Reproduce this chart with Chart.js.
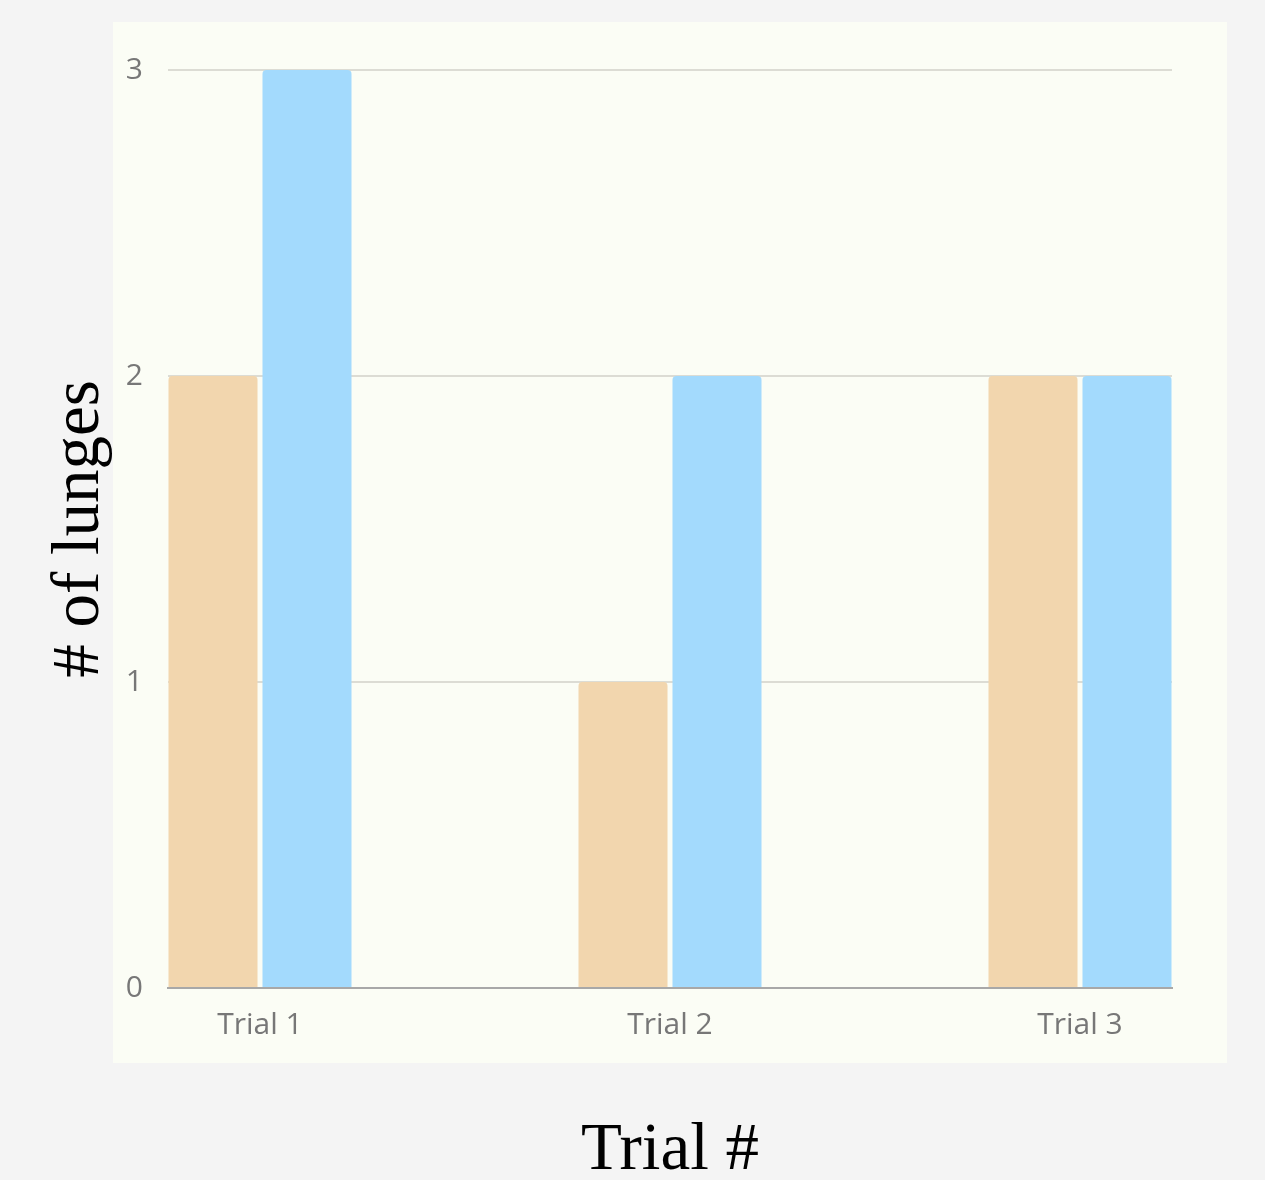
<!DOCTYPE html>
<html>
<head>
  <meta charset="utf-8">
  <title>Lunges per trial</title>
  <script src="https://cdn.jsdelivr.net/npm/chart.js@4.4.1/dist/chart.umd.min.js"></script>
  <style>
    body {
      margin: 0;
      background-color: #f4f4f4;
    }
    #wrap {
      position: relative;
      width: 1265px;
      height: 1180px;
    }
  </style>
</head>
<body>
  <div id="wrap">
    <canvas id="lungesChart"></canvas>
  </div>

  <script>
    // data
    const trials = ['Trial 1', 'Trial 2', 'Trial 3'];
    const seriesTan = [2, 1, 2];
    const seriesBlue = [3, 2, 2];
    const yTicks = [0, 1, 2, 3];

    // pale panel behind the plot
    const panelBg = {
      id: 'panelBg',
      beforeDraw(chart) {
        const { ctx, chartArea } = chart;
        ctx.save();
        ctx.fillStyle = '#fbfdf5';
        ctx.fillRect(chartArea.left - 55, chartArea.top - 48,
          chartArea.right - chartArea.left + 110, chartArea.bottom - chartArea.top + 123);
        ctx.restore();
      }
    };

    const tickFont = { family: 'Open Sans', size: 30 };

    const ctx = document.getElementById('lungesChart').getContext('2d');
    new Chart(ctx, {
      type: 'bar',
      data: {
        datasets: [
          {
            data: seriesTan.map((v, i) => ({ x: i, y: v })),
            backgroundColor: '#f2d6ae',
            borderRadius: 4
          },
          {
            data: seriesBlue.map((v, i) => ({ x: i, y: v })),
            backgroundColor: '#a3dafd',
            borderRadius: 4
          }
        ]
      },
      options: {
        responsive: true,
        maintainAspectRatio: false,
        animation: false,
        categoryPercentage: 0.4585,
        barPercentage: 0.947,
        layout: { padding: { top: 70, right: 93, bottom: 0, left: 0 } },
        plugins: {
          legend: { display: false },
          tooltip: { enabled: false }
        },
        scales: {
          x: {
            type: 'linear',
            offset: false,
            min: -0.2244,
            max: 2.2244,
            afterBuildTicks: scale => {
              scale.ticks = trials.map((t, i) => ({ value: i }));
            },
            afterFit: scale => { scale.height = 192; },
            ticks: {
              callback: v => trials[v],
              font: tickFont,
              color: '#777',
              padding: 19,
              maxRotation: 0,
              autoSkip: false
            },
            grid: { display: false, drawTicks: false },
            border: { display: true, color: '#a8a8a8', width: 2 },
            title: {
              display: true,
              text: 'Trial #',
              font: { family: 'Liberation Serif', size: 67, lineHeight: 0.85 },
              color: '#000',
              padding: { top: 0, bottom: 0 }
            }
          },
          y: {
            min: 0,
            max: 3,
            afterBuildTicks: scale => {
              scale.ticks = yTicks.map(v => ({ value: v }));
            },
            afterFit: scale => { scale.width = 168; },
            ticks: {
              font: tickFont,
              color: '#777',
              padding: 25
            },
            grid: { color: '#dcdcd4', lineWidth: 2, drawTicks: false },
            border: { display: false },
            title: {
              display: true,
              text: '# of lunges',
              font: { family: 'Liberation Serif', size: 67, lineHeight: 0.9 },
              color: '#000',
              padding: { top: 50, bottom: 0 }
            }
          }
        }
      },
      plugins: [panelBg]
    });
  </script>
</body>
</html>
